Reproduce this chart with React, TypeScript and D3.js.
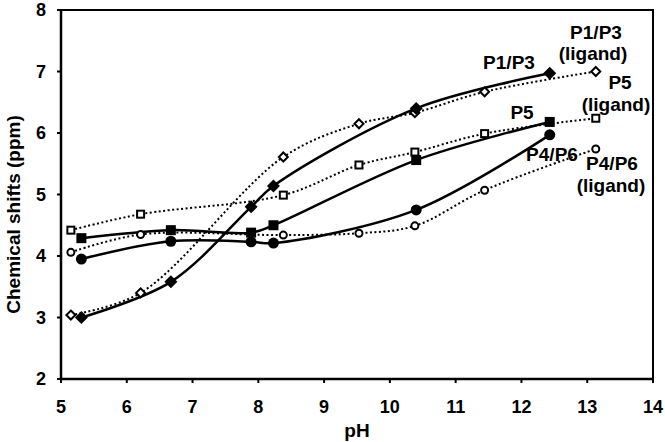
import React from "react";
import * as d3 from "d3";

const xTicks = [5, 6, 7, 8, 9, 10, 11, 12, 13, 14];
const yTicks = [2, 3, 4, 5, 6, 7, 8];

const solidPH = [5.31, 6.67, 7.89, 8.23, 10.4, 12.43];
const p13Solid = [3.0, 3.58, 4.8, 5.14, 6.4, 6.97];
const p5Solid = [4.29, 4.42, 4.38, 4.5, 5.56, 6.18];
const p46Solid = [3.95, 4.24, 4.23, 4.21, 4.75, 5.97];

const ligandPH = [5.15, 6.21, 8.38, 9.53, 10.38, 11.44, 13.13];
const p13Ligand = [3.04, 3.4, 5.61, 6.15, 6.33, 6.67, 7.0];
const p5Ligand = [4.42, 4.68, 4.99, 5.48, 5.69, 5.99, 6.24];
const p46Ligand = [4.06, 4.35, 4.34, 4.37, 4.49, 5.07, 5.74];

const W = 665;
const H = 442;
const M = { left: 61, right: 12, top: 10, bottom: 63 };
const FONT = "'Liberation Sans', Arial, sans-serif";

type Shape = "diamond" | "square" | "circle";

function Marker({ x, y, shape, filled }: { x: number; y: number; shape: Shape; filled: boolean }) {
  const fill = filled ? "#000" : "#fff";
  const stroke = "#000";
  const sw = filled ? 0 : 2;
  if (shape === "diamond") {
    const r = filled ? 6.5 : 4.5;
    return (
      <path
        d={`M${x},${y - r}L${x + r},${y}L${x},${y + r}L${x - r},${y}Z`}
        fill={fill}
        stroke={stroke}
        strokeWidth={sw}
      />
    );
  }
  if (shape === "square") {
    const s = filled ? 10 : 7;
    return <rect x={x - s / 2} y={y - s / 2} width={s} height={s} fill={fill} stroke={stroke} strokeWidth={sw} />;
  }
  const r = filled ? 5.5 : 3.5;
  return <circle cx={x} cy={y} r={r} fill={fill} stroke={stroke} strokeWidth={sw} />;
}

export default function App() {
  const x = d3.scaleLinear().domain([5, 14]).range([M.left, W - M.right]);
  const y = d3.scaleLinear().domain([2, 8]).range([H - M.bottom, M.top]);

  const line = d3
    .line<[number, number]>()
    .x((d) => x(d[0]))
    .y((d) => y(d[1]))
    .curve(d3.curveCatmullRom.alpha(0.5));

  const series = [
    { xs: ligandPH, ys: p13Ligand, shape: "diamond" as Shape, filled: false, dotted: true },
    { xs: ligandPH, ys: p5Ligand, shape: "square" as Shape, filled: false, dotted: true },
    { xs: ligandPH, ys: p46Ligand, shape: "circle" as Shape, filled: false, dotted: true },
    { xs: solidPH, ys: p13Solid, shape: "diamond" as Shape, filled: true, dotted: false },
    { xs: solidPH, ys: p5Solid, shape: "square" as Shape, filled: true, dotted: false },
    { xs: solidPH, ys: p46Solid, shape: "circle" as Shape, filled: true, dotted: false },
  ];

  const x0 = x(5);
  const x1 = x(14);
  const y0 = y(2);
  const y1 = y(8);

  const labels = [
    { t: "P1/P3", cx: 509, by: 69 },
    { t: "P1/P3", cx: 596, by: 39 },
    { t: "(ligand)", cx: 593, by: 60 },
    { t: "P5", cx: 620, by: 89 },
    { t: "(ligand)", cx: 616, by: 111 },
    { t: "P5", cx: 522, by: 119 },
    { t: "P4/P6", cx: 552, by: 161 },
    { t: "P4/P6", cx: 612, by: 170 },
    { t: "(ligand)", cx: 611, by: 192 },
  ];

  return (
    <>
      <style>{"body{margin:0}"}</style>
      <svg width={W} height={H} style={{ display: "block", background: "#fff" }} fontFamily={FONT}>
        {/* frame */}
        <path d={`M${x0},${y1}H${x1}V${y0}`} fill="none" stroke="#000" strokeWidth={2} />
        {/* series lines */}
        {series.map((s, i) => (
          <path
            key={"l" + i}
            d={line(s.xs.map((v, j) => [v, s.ys[j]] as [number, number])) || ""}
            fill="none"
            stroke="#000"
            strokeWidth={s.dotted ? 2 : 2.5}
            strokeDasharray={s.dotted ? "2,2.5" : undefined}
          />
        ))}
        {series.map((s, i) =>
          s.xs.map((v, j) => (
            <Marker key={`m${i}-${j}`} x={x(v)} y={y(s.ys[j])} shape={s.shape} filled={s.filled} />
          ))
        )}
        {/* axes */}
        <line x1={x0} x2={x0} y1={y1} y2={y0} stroke="#000" strokeWidth={2.5} />
        <line x1={x0} x2={x1} y1={y0} y2={y0} stroke="#000" strokeWidth={2.5} />
        {yTicks.map((t) => (
          <g key={"yt" + t}>
            <line x1={x0 - 4} x2={x0} y1={y(t)} y2={y(t)} stroke="#000" strokeWidth={2} />
            <text x={x0 - 15} y={y(t)} dy="0.35em" textAnchor="end" fontSize={18} fontWeight="bold">
              {t}
            </text>
          </g>
        ))}
        {xTicks.map((t) => (
          <g key={"xt" + t}>
            <line x1={x(t)} x2={x(t)} y1={y0} y2={y0 + 4} stroke="#000" strokeWidth={2} />
            <text x={x(t)} y={y0 + 34} textAnchor="middle" fontSize={18} fontWeight="bold">
              {t}
            </text>
          </g>
        ))}
        <text x={(x0 + x1) / 2} y={437} textAnchor="middle" fontSize={19} fontWeight="bold">
          pH
        </text>
        <text
          transform={`translate(20,${(y0 + y1) / 2 + 20}) rotate(-90)`}
          textAnchor="middle"
          fontSize={19}
          fontWeight="bold"
        >
          Chemical shifts (ppm)
        </text>
        {labels.map((l, i) => (
          <text key={"lb" + i} x={l.cx} y={l.by} textAnchor="middle" fontSize={19} fontWeight="bold">
            {l.t}
          </text>
        ))}
      </svg>
    </>
  );
}
